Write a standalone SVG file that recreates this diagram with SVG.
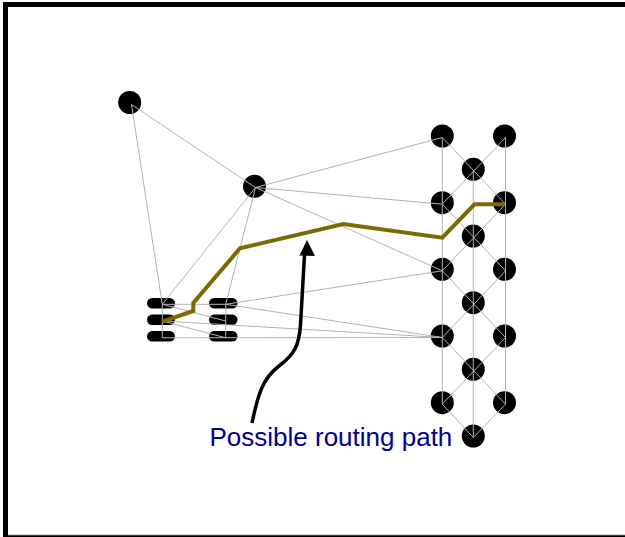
<svg xmlns="http://www.w3.org/2000/svg" width="625" height="537" viewBox="0 0 625 537">
  <style>
    .edge { stroke: #b3b3b3; stroke-width: 1; fill: none; }
    .node { fill: #000; }
    .route { stroke: #7a6c00; stroke-width: 4; fill: none; stroke-linejoin: miter; }
    .pointer { stroke: #000; stroke-width: 3.5; fill: none; }
    .label { font-family: "Liberation Sans", Arial, sans-serif; font-size: 26px; fill: #00008b; }
  </style>

  <rect width="625" height="537" fill="#fff"/>
  <!-- frame -->
  <rect x="5.5" y="4.5" width="700" height="533" fill="none" stroke="#000" stroke-width="5"/>
  <line x1="8" y1="534.8" x2="625" y2="534.8" stroke="#c8c8c8" stroke-width="1"/>

  <!-- nodes -->
  <g id="n-hub-a"><circle class="node" cx="129.7" cy="102.5" r="11.5"/></g>
  <g id="n-hub-b"><circle class="node" cx="254.5" cy="186.3" r="11.5"/></g>
  <g id="n-pin-l1"><rect class="node" x="147" y="298" width="28" height="10.5" rx="5.2"/></g>
  <g id="n-pin-l2"><rect class="node" x="147" y="314.5" width="28" height="10.5" rx="5.2"/></g>
  <g id="n-pin-l3"><rect class="node" x="147" y="331" width="28" height="10.5" rx="5.2"/></g>
  <g id="n-pin-r1"><rect class="node" x="209" y="298" width="28.5" height="10.5" rx="5.2"/></g>
  <g id="n-pin-r2"><rect class="node" x="209" y="314.5" width="28.5" height="10.5" rx="5.2"/></g>
  <g id="n-pin-r3"><rect class="node" x="209" y="331" width="28.5" height="10.5" rx="5.2"/></g>

  <g id="n-g1-0"><circle class="node" cx="442.3" cy="136" r="11.5"/></g>
  <g id="n-g1-1"><circle class="node" cx="442.3" cy="202.7" r="11.5"/></g>
  <g id="n-g1-2"><circle class="node" cx="442.3" cy="269.3" r="11.5"/></g>
  <g id="n-g1-3"><circle class="node" cx="442.3" cy="336" r="11.5"/></g>
  <g id="n-g1-4"><circle class="node" cx="442.3" cy="402.7" r="11.5"/></g>
  <g id="n-g2-0"><circle class="node" cx="473.3" cy="169.3" r="11.5"/></g>
  <g id="n-g2-1"><circle class="node" cx="473.3" cy="236" r="11.5"/></g>
  <g id="n-g2-2"><circle class="node" cx="473.3" cy="302.7" r="11.5"/></g>
  <g id="n-g2-3"><circle class="node" cx="473.3" cy="369.3" r="11.5"/></g>
  <g id="n-g2-4"><circle class="node" cx="473.3" cy="436" r="11.5"/></g>
  <g id="n-g3-0"><circle class="node" cx="504.5" cy="136" r="11.5"/></g>
  <g id="n-g3-1"><circle class="node" cx="504.5" cy="202.7" r="11.5"/></g>
  <g id="n-g3-2"><circle class="node" cx="504.5" cy="269.3" r="11.5"/></g>
  <g id="n-g3-3"><circle class="node" cx="504.5" cy="336" r="11.5"/></g>
  <g id="n-g3-4"><circle class="node" cx="504.5" cy="402.7" r="11.5"/></g>

  <!-- connectors, drawn over the nodes -->
  <g id="connectors" class="edge">
    <line x1="131.5" y1="104.5" x2="255.5" y2="187.5"/>
    <line x1="131.5" y1="104.5" x2="162.3" y2="304.3"/>
    <line x1="255.5" y1="187.5" x2="162.3" y2="304.3"/>
    <line x1="255.5" y1="187.5" x2="225.7" y2="304.3"/>
    <line x1="255.5" y1="187.5" x2="442.3" y2="137.5"/>
    <line x1="255.5" y1="187.5" x2="442.3" y2="204.2"/>
    <line x1="255.5" y1="187.5" x2="442.3" y2="270.8"/>
    <line x1="162.3" y1="304.3" x2="162.3" y2="337.8"/>
    <line x1="225.7" y1="304.3" x2="225.7" y2="337.8"/>
    <line x1="162.3" y1="304.3" x2="225.7" y2="304.3"/>
    <line x1="162.3" y1="304.3" x2="225.7" y2="321"/>
    <line x1="162.3" y1="321" x2="225.7" y2="337.8"/>
    <line x1="225.7" y1="304.3" x2="442.3" y2="270.8"/>
    <line x1="225.7" y1="304.3" x2="442.3" y2="337.5"/>
    <line x1="162.3" y1="321" x2="442.3" y2="337.5"/>
    <line x1="162.3" y1="337.8" x2="442.3" y2="337.5"/>
    <!-- lattice -->
    <line x1="442.3" y1="137.5" x2="442.3" y2="404.2"/>
    <line x1="473.3" y1="170.8" x2="473.3" y2="437.5"/>
    <line x1="505.5" y1="137.5" x2="505.5" y2="404.2"/>
    <path d="M442.3,137.5 L505.5,204.2 M505.5,137.5 L442.3,204.2
             M442.3,204.2 L505.5,270.8 M505.5,204.2 L442.3,270.8
             M442.3,270.8 L505.5,337.5 M505.5,270.8 L442.3,337.5
             M442.3,337.5 L505.5,404.2 M505.5,337.5 L442.3,404.2
             M442.3,404.2 L473.3,437.5 L505.5,404.2"/>
  </g>

  <!-- routed path -->
  <polyline class="route" points="162.3,321.7 193.3,311 193.3,303 240,248.3 343.3,224 442.3,237.7 474.5,204.3 505,204.3"/>

  <!-- pointer arrow -->
  <path class="pointer" d="M252,423 C258,394 263,378 279,366 C295,354 299,345 300.5,325 L304.5,255"/>
  <path d="M307,240 L315,256 L299.5,255.5 Z" fill="#000"/>

  <text class="label" x="209.5" y="445.5">Possible routing path</text>
</svg>
